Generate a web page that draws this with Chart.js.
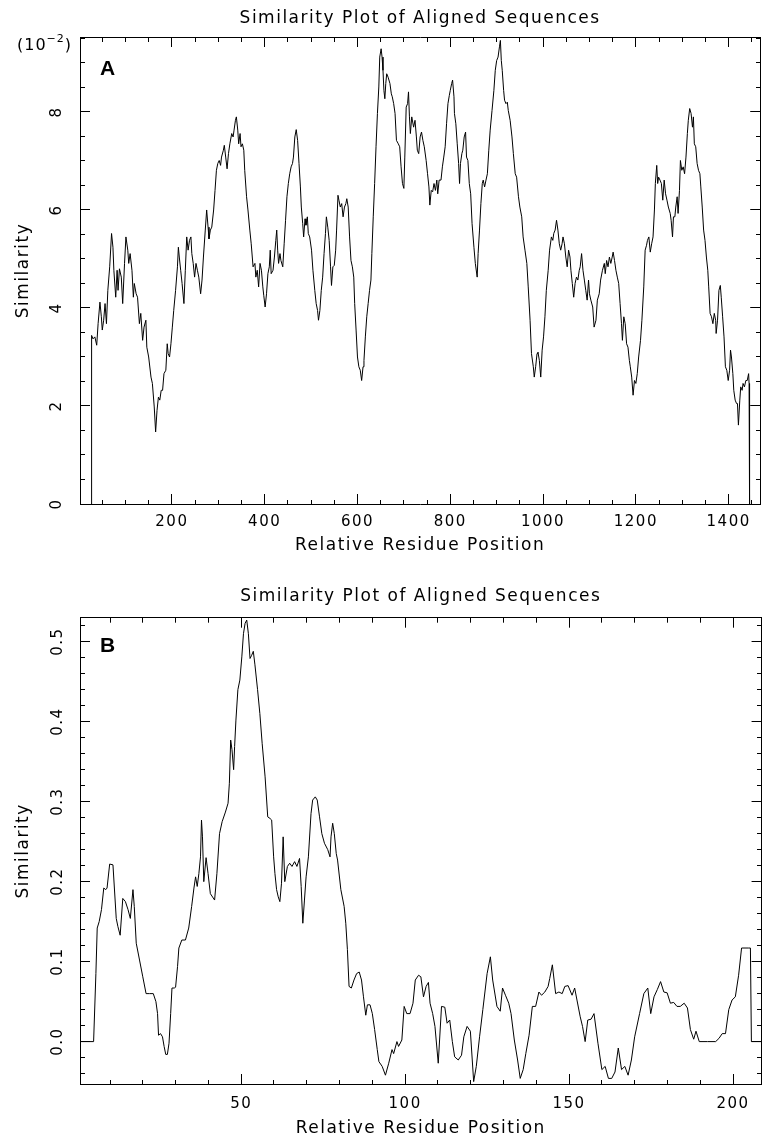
<!DOCTYPE html>
<html>
<head>
<meta charset="utf-8">
<title>Similarity Plot of Aligned Sequences</title>
<script src="https://cdn.jsdelivr.net/npm/chart.js@4.4.1/dist/chart.umd.min.js"></script>
<style>
  html, body { margin: 0; padding: 0; background: #fff; overflow: hidden; }
  #wrap { position: relative; width: 771px; height: 1137px; }
  .plot { position: absolute; left: 0; }
</style>
</head>
<body>
<div id="wrap">
  <div class="plot" style="top:0"><canvas id="chartA" width="771" height="580"></canvas></div>
  <div class="plot" style="top:578px"><canvas id="chartB" width="771" height="567"></canvas></div>
</div>
<script>
/* ---------------- DATA : PANEL A (similarity in units of 10^-2) ---------------- */

const residueA = [
  26, 27, 30, 34, 38, 41, 45, 48, 50, 53,
  56, 59, 62, 66, 70, 73, 75, 79, 82, 84,
  87, 91, 94, 98, 101, 105, 107, 110, 114, 117,
  119, 123, 126, 130, 133, 137, 140, 144, 146, 150,
  155, 158, 162, 165, 168, 171, 174, 177, 180, 183,
  187, 190, 192, 195, 198, 201, 204, 208, 212, 214,
  216, 219, 222, 226, 229, 232, 235, 238, 241, 243,
  246, 249, 252, 255, 258, 262, 265, 268, 272, 275,
  278, 280, 283, 286, 290, 293, 296, 299, 302, 305,
  307, 311, 313, 316, 319, 322, 325, 329, 332, 334,
  337, 339, 342, 344, 347, 349, 352, 355, 357, 361,
  364, 368, 371, 375, 379, 381, 384, 387, 390, 393,
  396, 398, 401, 404, 407, 410, 412, 414, 418, 421,
  424, 426, 428, 430, 433, 435, 439, 442, 445, 448,
  451, 454, 457, 460, 462, 465, 468, 471, 474, 477,
  479, 482, 484, 487, 489, 492, 494, 497, 501, 504,
  508, 511, 514, 516, 519, 522, 525, 528, 531, 533,
  536, 539, 542, 544, 547, 550, 553, 555, 558, 560,
  563, 566, 569, 572, 575, 577, 580, 583, 586, 589,
  592, 594, 597, 600, 603, 606, 609, 612, 614, 617,
  620, 623, 626, 629, 631, 634, 637, 640, 643, 646,
  648, 651, 653, 655, 657, 659, 661, 663, 666, 670,
  673, 675, 678, 681, 684, 688, 691, 694, 697, 700,
  702, 705, 708, 710, 712, 714, 717, 721, 724, 727,
  729, 732, 735, 738, 741, 744, 748, 751, 754, 756,
  759, 762, 765, 768, 771, 773, 776, 780, 783, 786,
  789, 792, 795, 798, 800, 803, 805, 808, 809, 812,
  815, 818, 820, 822, 825, 827, 830, 833, 835, 838,
  841, 844, 847, 851, 854, 858, 860, 863, 866, 869,
  871, 874, 877, 880, 883, 886, 890, 894, 897, 900,
  903, 906, 908, 910, 912, 915, 917, 920, 923, 925,
  929, 933, 936, 940, 943, 947, 950, 954, 957, 961,
  965, 968, 972, 975, 979, 981, 984, 987, 989, 992,
  995, 998, 1001, 1004, 1007, 1011, 1014, 1018, 1021, 1023,
  1026, 1029, 1032, 1035, 1038, 1041, 1043, 1046, 1049, 1052,
  1055, 1058, 1060, 1063, 1066, 1069, 1072, 1075, 1078, 1080,
  1083, 1086, 1089, 1092, 1095, 1098, 1100, 1103, 1107, 1110,
  1114, 1117, 1121, 1124, 1128, 1132, 1134, 1137, 1140, 1143,
  1146, 1149, 1151, 1154, 1157, 1160, 1163, 1166, 1169, 1171,
  1174, 1177, 1180, 1183, 1186, 1188, 1191, 1194, 1197, 1200,
  1203, 1206, 1210, 1213, 1217, 1220, 1223, 1225, 1228, 1231,
  1234, 1237, 1240, 1242, 1245, 1247, 1249, 1252, 1255, 1258,
  1261, 1264, 1267, 1270, 1274, 1276, 1279, 1281, 1284, 1286,
  1289, 1291, 1294, 1296, 1299, 1302, 1305, 1308, 1311, 1313,
  1316, 1319, 1322, 1324, 1326, 1329, 1332, 1335, 1338, 1340,
  1343, 1346, 1349, 1352, 1355, 1357, 1360, 1363, 1366, 1369,
  1372, 1373, 1376, 1379, 1382, 1384, 1387, 1390, 1393, 1396,
  1399, 1402, 1404, 1406, 1409, 1411, 1414, 1417, 1419, 1421,
  1424, 1426, 1429, 1431, 1434, 1437, 1440, 1443, 1444, 1445
];

const similarityA = [
  0, 3.44, 3.37, 3.41, 3.24, 3.68, 4.12, 3.82, 3.55, 3.75,
  4.09, 3.68, 4.36, 4.84, 5.52, 5.24, 4.77, 4.22, 4.77, 4.36,
  4.80, 4.63, 4.09, 4.91, 5.45, 5.18, 4.91, 5.11, 4.77, 4.22,
  4.50, 4.29, 4.22, 3.68, 3.89, 3.34, 3.61, 3.75, 3.20, 3.00,
  2.59, 2.46, 1.98, 1.47, 1.91, 2.18, 2.12, 2.32, 2.32, 2.66,
  2.73, 3.27, 3.07, 3.00, 3.27, 3.61, 3.95, 4.36, 4.84, 5.24,
  5.04, 4.77, 4.50, 4.09, 4.77, 5.45, 5.18, 5.38, 5.45, 5.11,
  4.91, 4.63, 4.91, 4.77, 4.63, 4.29, 4.57, 5.04, 5.59, 6.00,
  5.65, 5.41, 5.59, 5.65, 6.00, 6.40, 6.81, 6.95, 7.01, 6.91,
  7.08, 7.22, 7.32, 7.08, 6.84, 7.15, 7.35, 7.56, 7.49, 7.63,
  7.83, 7.90, 7.63, 7.35, 7.56, 7.29, 7.35, 7.22, 6.81, 6.27,
  6.00, 5.59, 5.31, 4.84, 4.91, 4.63, 4.77, 4.43, 4.91, 4.77,
  4.43, 4.26, 4.02, 4.29, 4.70, 4.84, 5.18, 4.70, 4.77, 5.04,
  5.38, 5.59, 5.18, 4.91, 5.11, 4.97, 4.84, 5.31, 5.79, 6.27,
  6.54, 6.74, 6.88, 6.95, 7.08, 7.49, 7.64, 7.42, 6.95, 6.47,
  6.06, 5.72, 5.45, 5.82, 5.69, 5.86, 5.52, 5.45, 5.18, 4.77,
  4.36, 4.09, 3.95, 3.75, 3.95, 4.36, 4.63, 5.11, 5.52, 5.86,
  5.65, 5.38, 4.84, 4.46, 4.84, 4.87, 5.18, 5.59, 6.30, 6.20,
  6.06, 6.13, 5.86, 6.06, 6.13, 6.23, 6.06, 5.45, 4.97, 4.84,
  4.63, 4.09, 3.55, 3.00, 2.80, 2.73, 2.52, 2.80, 2.93, 3.41,
  3.82, 4.09, 4.36, 4.57, 5.11, 5.86, 6.54, 7.29, 7.97, 8.51,
  9.12, 9.29, 9.12, 8.85, 8.44, 8.27, 8.58, 8.78, 8.71, 8.58,
  8.37, 8.31, 8.17, 7.97, 7.42, 7.35, 7.29, 6.88, 6.54, 6.44,
  7.08, 8.10, 8.17, 8.41, 7.90, 7.56, 7.90, 7.69, 7.83, 7.49,
  7.22, 7.15, 7.49, 7.59, 7.42, 7.29, 7.01, 6.74, 6.47, 6.10,
  6.40, 6.37, 6.54, 6.40, 6.61, 6.33, 6.61, 6.61, 6.88, 7.08,
  7.29, 7.76, 8.17, 8.34, 8.44, 8.58, 8.65, 8.31, 7.97, 7.76,
  7.35, 6.95, 6.54, 6.95, 7.15, 7.22, 7.49, 7.59, 7.08, 7.01,
  6.54, 6.33, 5.72, 5.24, 4.91, 4.63, 5.11, 5.59, 6.13, 6.54,
  6.61, 6.47, 6.61, 6.74, 7.22, 7.63, 8.03, 8.44, 8.85, 9.05,
  9.12, 9.33, 9.46, 9.05, 8.85, 8.44, 8.24, 8.17, 8.20, 8.03,
  7.83, 7.49, 7.15, 6.74, 6.67, 6.27, 6.06, 5.86, 5.45, 5.18,
  4.91, 4.43, 3.75, 3.07, 2.80, 2.59, 2.80, 3.07, 3.10, 2.93,
  2.59, 3.14, 3.41, 3.82, 4.36, 4.77, 5.18, 5.45, 5.38, 5.52,
  5.59, 5.79, 5.59, 5.31, 5.18, 5.31, 5.45, 5.31, 5.04, 4.84,
  5.18, 5.04, 4.77, 4.50, 4.22, 4.50, 4.63, 4.57, 4.77, 4.84,
  5.11, 4.77, 4.57, 4.36, 4.16, 4.57, 4.29, 4.16, 4.02, 3.61,
  3.75, 4.16, 4.29, 4.57, 4.77, 4.91, 4.70, 4.97, 4.84, 5.04,
  4.91, 5.04, 5.14, 4.97, 4.77, 4.63, 4.50, 4.09, 3.68, 3.34,
  3.82, 3.68, 3.27, 3.20, 2.93, 2.80, 2.59, 2.22, 2.52, 2.46,
  2.66, 3.00, 3.34, 3.75, 4.43, 5.18, 5.28, 5.38, 5.45, 5.14,
  5.31, 5.45, 6.00, 6.54, 6.91, 6.54, 6.67, 6.61, 6.54, 6.20,
  6.61, 6.33, 6.20, 6.06, 5.93, 5.79, 5.45, 5.86, 5.86, 6.06,
  6.27, 5.93, 6.40, 7.01, 6.81, 6.88, 6.74, 7.08, 7.56, 7.83,
  8.07, 7.97, 7.69, 7.90, 7.35, 7.29, 6.95, 6.81, 6.74, 6.47,
  6.06, 5.59, 5.38, 5.04, 4.77, 4.43, 3.89, 3.82, 3.68, 3.89,
  3.75, 3.48, 3.75, 4.36, 4.46, 4.22, 3.82, 3.41, 2.80, 2.73,
  2.52, 2.73, 3.14, 3.00, 2.66, 2.32, 2.12, 2.05, 2.05, 1.61,
  2.12, 2.39, 2.32, 2.46, 2.39, 2.52, 2.52, 2.66, 2.46, 0
];

/* ---------------- DATA : PANEL B ---------------- */

const residueB = [
  0.85, 5, 5.7, 6.1, 6.7, 7.4, 8.1, 8.7, 9.1, 9.9,
  10.9, 11.9, 12.4, 13.1, 13.9, 14.7, 15.5, 16.2, 17, 17.4,
  18, 19, 20, 21, 22, 23.2, 24, 24.5, 24.8, 25.4,
  26, 26.5, 27, 27.5, 28, 28.5, 28.9, 29.6, 30, 30.6,
  31, 31.9, 33, 34, 34.9, 35.6, 36.1, 36.6, 37.1, 37.6,
  37.9, 38.2, 38.6, 39.3, 39.9, 40.6, 41.9, 42.6, 43.4, 44.2,
  45.2, 46, 46.4, 46.8, 47.2, 47.7, 48, 48.4, 49, 49.6,
  50.2, 50.7, 51.2, 51.7, 52.2, 52.7, 53.2, 53.7, 54.2, 55,
  55.7, 56.4, 57.3, 58.1, 58.8, 59.3, 59.9, 60.3, 60.8, 61.3,
  61.8, 62.3, 62.8, 63.3, 64.1, 64.8, 65.5, 66.3, 67, 67.8,
  68.3, 68.8, 69.3, 69.8, 70.5, 71.3, 71.8, 72.6, 73.2, 73.9,
  74.6, 75.4, 76.4, 77.1, 77.4, 77.9, 78.4, 79, 79.4, 80.4,
  81.4, 81.9, 82.4, 82.9, 83.6, 84.4, 85.2, 86, 86.7, 87.3,
  88, 88.5, 89.3, 90, 90.7, 91.5, 92, 93, 94, 95,
  96, 96.5, 97.5, 98, 99, 99.7, 100.5, 101.5, 102.4, 103.1,
  104.1, 104.8, 105.6, 106.4, 107.1, 107.6, 108.4, 109.1, 110.1, 111.1,
  112.1, 112.8, 113.6, 114.4, 115.1, 116.2, 117.2, 117.9, 118.9, 119.9,
  120.9, 121.7, 122.7, 123.7, 125, 126, 126.7, 128, 129, 129.7,
  130.6, 131.6, 132.3, 133.3, 134.3, 135.1, 136, 136.8, 137.8, 138.8,
  139.8, 140.8, 141.6, 142.6, 143.6, 144.1, 144.9, 145.9, 146.9, 147.9,
  148.7, 149.7, 150.9, 151.7, 152.4, 153.4, 154.1, 154.9, 155.7, 156.7,
  157.6, 158.8, 160, 161, 162, 163, 164, 165, 166, 167,
  168, 169, 170, 171.5, 172.8, 174, 174.9, 175.9, 176.9, 177.9,
  178.9, 179.9, 180.9, 181.9, 182.9, 183.9, 185.1, 186.1, 187, 188,
  188.7, 189.7, 192.2, 194.7, 195.7, 196.7, 197.7, 198.7, 199.7, 200.7,
  201.7, 202.6, 204.8, 205.3, 205.6, 208.7
];

const similarityB = [
  0, 0, 0.085, 0.142, 0.150, 0.165, 0.192, 0.190, 0.192, 0.222,
  0.221, 0.154, 0.144, 0.133, 0.179, 0.175, 0.165, 0.154, 0.190, 0.169,
  0.123, 0.102, 0.081, 0.060, 0.060, 0.060, 0.050, 0.035, 0.008, 0.010,
  0.006, -0.006, -0.016, -0.016, -0.002, 0.035, 0.067, 0.067, 0.068, 0.094,
  0.117, 0.127, 0.127, 0.142, 0.169, 0.192, 0.206, 0.194, 0.210, 0.231,
  0.277, 0.256, 0.200, 0.230, 0.210, 0.185, 0.177, 0.210, 0.260, 0.275,
  0.287, 0.298, 0.323, 0.377, 0.365, 0.340, 0.369, 0.402, 0.440, 0.452,
  0.481, 0.510, 0.523, 0.527, 0.510, 0.479, 0.483, 0.488, 0.471, 0.440,
  0.410, 0.373, 0.331, 0.281, 0.279, 0.277, 0.231, 0.210, 0.190, 0.181,
  0.175, 0.198, 0.256, 0.200, 0.219, 0.223, 0.219, 0.225, 0.219, 0.229,
  0.194, 0.148, 0.177, 0.206, 0.231, 0.285, 0.302, 0.306, 0.302, 0.281,
  0.260, 0.248, 0.240, 0.231, 0.256, 0.273, 0.260, 0.235, 0.227, 0.190,
  0.169, 0.148, 0.115, 0.069, 0.067, 0.077, 0.085, 0.087, 0.077, 0.056,
  0.033, 0.046, 0.046, 0.035, 0.015, -0.010, -0.025, -0.031, -0.042, -0.027,
  -0.010, -0.015, 0.000, -0.006, 0.002, 0.044, 0.035, 0.035, 0.048, 0.077,
  0.083, 0.081, 0.056, 0.069, 0.074, 0.048, 0.035, 0.019, -0.027, 0.044,
  0.043, 0.023, 0.027, 0.000, -0.019, -0.023, -0.017, 0.006, 0.019, 0.013,
  -0.050, -0.031, 0.006, 0.040, 0.085, 0.106, 0.077, 0.044, 0.038, 0.067,
  0.058, 0.048, 0.035, 0.002, -0.023, -0.046, -0.035, -0.015, 0.008, 0.044,
  0.044, 0.062, 0.058, 0.062, 0.069, 0.079, 0.096, 0.060, 0.062, 0.060,
  0.069, 0.070, 0.058, 0.067, 0.052, 0.031, 0.019, 0.000, 0.027, 0.028,
  0.035, -0.002, -0.035, -0.031, -0.046, -0.046, -0.038, -0.008, -0.035, -0.031,
  -0.042, -0.023, 0.006, 0.035, 0.060, 0.067, 0.035, 0.056, 0.065, 0.075,
  0.062, 0.061, 0.048, 0.049, 0.044, 0.044, 0.048, 0.042, 0.015, 0.003,
  0.013, 0.000, 0.000, 0.000, 0.004, 0.010, 0.010, 0.040, 0.052, 0.056,
  0.083, 0.117, 0.117, 0.117, 0, 0
];

/* ---------------- COMMON STYLE ---------------- */

const FONT = '"DejaVu Sans", "Noto Sans", sans-serif';
const titleText = 'Similarity Plot of Aligned Sequences';
const xTitleText = 'Relative Residue Position';
const yTitleText = 'Similarity';

// tick marks point inward (negative length); minor ones are cut to half with a dash
const TICK_LEN = 10;
const DASH_FROM_EDGE = [5, 100];        // line starts at the border (bottom / right)
const DASH_TO_EDGE = [0, 5, 5, 100];    // line starts inside (top / left)

function tickGrid(isMajor, dash) {
  return {
    display: true,
    drawOnChartArea: false,
    drawTicks: true,
    tickLength: -TICK_LEN,
    tickColor: '#000',
    tickWidth: 1,
    tickBorderDash: c => (c.tick && isMajor(c.tick.value) ? [] : dash)
  };
}

// letter of the panel and the (10^-2) multiplier
function makeLabels(letter, letterDy, exponent) {
  return {
    id: 'labels' + letter,
    beforeLayout(chart) { chart.ctx.letterSpacing = '1.5px'; },
    beforeDraw(chart) { chart.ctx.letterSpacing = '1.5px'; },
    afterDraw(chart) {
      const ctx = chart.ctx;
      const a = chart.chartArea;
      ctx.save();
      ctx.fillStyle = '#000';
      ctx.letterSpacing = '0px';
      ctx.textAlign = 'left';
      ctx.textBaseline = 'alphabetic';
      ctx.font = 'bold 21px "Liberation Sans", Arial, sans-serif';
      ctx.fillText(letter, a.left + 20, a.top + letterDy);

      if (exponent) {
        ctx.letterSpacing = '1px';
        let x = 17;
        ctx.font = '16px ' + FONT;
        ctx.fillText('(10', x, 50);
        x += ctx.measureText('(10').width;
        ctx.font = '11px ' + FONT;
        ctx.fillText('\u2212' + exponent, x, 42);
        x += ctx.measureText('\u2212' + exponent).width;
        ctx.font = '16px ' + FONT;
        ctx.fillText(')', x, 50);
      }
      ctx.restore();
    }
  };
}

function buildChart(id, p) {
  const points = p.xs.map((x, i) => ({ x: x, y: p.ys[i] }));

  return new Chart(document.getElementById(id), {
    type: 'line',
    data: {
      datasets: [{
        data: points,
        borderColor: '#000',
        borderWidth: 1,
        pointRadius: 0,
        tension: 0,
        fill: false
      }]
    },
    options: {
      responsive: false,
      animation: false,
      devicePixelRatio: 1,
      events: [],
      layout: { padding: { left: 0, right: 3, top: 0, bottom: 0 } },
      plugins: {
        legend: { display: false },
        tooltip: { enabled: false },
        title: {
          display: true,
          text: titleText,
          fullSize: false,
          color: '#000',
          font: { family: FONT, size: 17, weight: 'normal', lineHeight: 1.2 },
          padding: { top: p.titleTop, bottom: p.titleBottom }
        }
      },
      scales: {
        x: {
          type: 'linear',
          position: 'bottom',
          min: p.xMin,
          max: p.xMax,
          afterFit: s => { s.height = p.xAxisHeight; },
          grid: tickGrid(p.xIsMajor, DASH_FROM_EDGE),
          border: { display: true, color: '#000', width: 1 },
          ticks: {
            stepSize: p.xStep,
            includeBounds: false,
            autoSkip: false,
            maxRotation: 0,
            minRotation: 0,
            padding: p.xLabelPad + TICK_LEN,
            color: '#000',
            font: { family: FONT, size: 15 },
            callback: v => (p.xIsMajor(v) ? String(v) : '')
          },
          title: {
            display: true,
            text: xTitleText,
            color: '#000',
            font: { family: FONT, size: 17, lineHeight: 1.2 },
            padding: { top: 0, bottom: p.xTitlePad }
          }
        },
        xTop: {
          type: 'linear',
          position: 'top',
          min: p.xMin,
          max: p.xMax,
          afterFit: s => { s.height = 0; },
          grid: tickGrid(p.xIsMajor, DASH_TO_EDGE),
          border: { display: true, color: '#000', width: 1 },
          ticks: { stepSize: p.xStep, includeBounds: false, autoSkip: false, display: false }
        },
        y: {
          type: 'linear',
          position: 'left',
          min: p.yMin,
          max: p.yMax,
          afterFit: s => { s.width = 80; },
          grid: tickGrid(p.yIsMajor, DASH_TO_EDGE),
          border: { display: true, color: '#000', width: 1 },
          ticks: {
            stepSize: p.yStep,
            includeBounds: false,
            autoSkip: false,
            minRotation: 90,
            maxRotation: 90,
            crossAlign: 'center',
            padding: p.yLabelPad + TICK_LEN,
            color: '#000',
            font: { family: FONT, size: 15 },
            callback: v => (p.yIsMajor(v) ? p.yFormat(v) : '')
          },
          title: {
            display: true,
            text: yTitleText,
            color: '#000',
            font: { family: FONT, size: 17, lineHeight: 1.2 },
            padding: { top: 13.8, bottom: 0 }
          }
        },
        yRight: {
          type: 'linear',
          position: 'right',
          min: p.yMin,
          max: p.yMax,
          afterFit: s => { s.width = 0; },
          grid: tickGrid(p.yIsMajor, DASH_FROM_EDGE),
          border: { display: true, color: '#000', width: 1 },
          ticks: { stepSize: p.yStep, includeBounds: false, autoSkip: false, display: false }
        }
      }
    },
    plugins: [makeLabels(p.letter, p.letterDy, p.exponent)]
  });
}

/* ---------------- PANEL A ---------------- */

buildChart('chartA', {
  xs: residueA, ys: similarityA,
  xMin: 2, xMax: 1468, xStep: 50,
  xIsMajor: v => v % 200 === 0,
  yMin: 0, yMax: 9.53, yStep: 0.5,
  yIsMajor: v => Math.abs(v % 2) < 1e-9,
  yFormat: v => String(v),
  titleTop: 8.3, titleBottom: 8.3,
  xAxisHeight: 76, xLabelPad: 9, xTitlePad: 24.3,
  yLabelPad: 17.5,
  letter: 'A', letterDy: 38, exponent: '2'
});

/* ---------------- PANEL B ---------------- */

buildChart('chartB', {
  xs: residueB, ys: similarityB,
  xMin: 0.85, xMax: 208.7, xStep: 10,
  xIsMajor: v => v % 50 === 0,
  yMin: -0.053, yMax: 0.53, yStep: 0.02,
  yIsMajor: v => Math.round(v * 100) % 10 === 0,
  yFormat: v => (Math.round(v * 100) / 100).toFixed(1),
  titleTop: 8.8, titleBottom: 10.5,
  xAxisHeight: 61, xLabelPad: 11, xTitlePad: 5.8,
  yLabelPad: 7.3,
  letter: 'B', letterDy: 34.3, exponent: null
});
</script>
</body>
</html>
